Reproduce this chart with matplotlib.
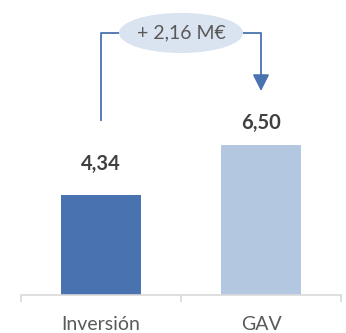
import matplotlib
matplotlib.use("Agg")
import matplotlib.pyplot as plt
from matplotlib.patches import Ellipse

categories = ["Inversión", "GAV"]
values = [4.34, 6.50]
bar_colors = ["#4972b0", "#b4c7e0"]


def fmt(v):
    return f"{v:.2f}".replace(".", ",")


plt.rcParams["font.family"] = ["Lato", "DejaVu Sans"]

fig = plt.figure(figsize=(3.46, 3.33), dpi=100)
ax = fig.add_axes([21 / 346, 38 / 333, 320 / 346, 295 / 333])

x = range(len(categories))
bars = ax.bar(x, values, width=0.5, color=bar_colors, zorder=2)

# value labels above bars
for xi, v, off in zip(x, values, [21, 12]):
    ax.annotate(fmt(v), (xi, v), xytext=(0, off), textcoords="offset pixels",
                ha="center", va="bottom", fontsize=14.5, fontweight="bold",
                color="#404040")

ax.set_xlim(-0.5, 1.5)
ax.set_ylim(0, 12.8)

# category separators on the baseline, labels in between
ax.set_xticks([-0.5, 0.5, 1.5])
ax.set_xticklabels([])
ax.set_xticks(list(x), minor=True)
ax.set_xticklabels(categories, minor=True, fontsize=14, color="#595959")
ax.tick_params(axis="x", which="major", length=5, width=1.2, color="#d9d9d9")
ax.tick_params(axis="x", which="minor", length=0, pad=15)
ax.set_yticks([])
for side in ["top", "right", "left"]:
    ax.spines[side].set_visible(False)
ax.spines["bottom"].set_color("#d9d9d9")
ax.spines["bottom"].set_linewidth(1.2)

# bracket with the difference between both bars
line_c = "#4a72b0"
top = 11.37
ax.plot([0, 0, 0.5], [values[0] + 3.26, top, top], color=line_c, lw=1.3,
        clip_on=False, zorder=3)
ax.plot([0.5, 1, 1], [top, top, values[1] + 3.0], color=line_c, lw=1.3,
        clip_on=False, zorder=3)
ax.annotate("", xy=(1, values[1] + 2.35), xytext=(1, values[1] + 3.05),
            arrowprops=dict(arrowstyle="-|>,head_length=1.0,head_width=0.5",
                            color=line_c, lw=1.3, shrinkA=0, shrinkB=0),
            zorder=3)
ax.add_patch(Ellipse((0.5, top), 0.775, 1.74, facecolor="#dae3f0",
                     edgecolor="none", zorder=4, clip_on=False))
ax.text(0.5, top, "+ " + fmt(values[1] - values[0]) + " M€", ha="center",
        va="center", fontsize=14, color="#595959", zorder=5)

fig.savefig("out.png", dpi=100)
